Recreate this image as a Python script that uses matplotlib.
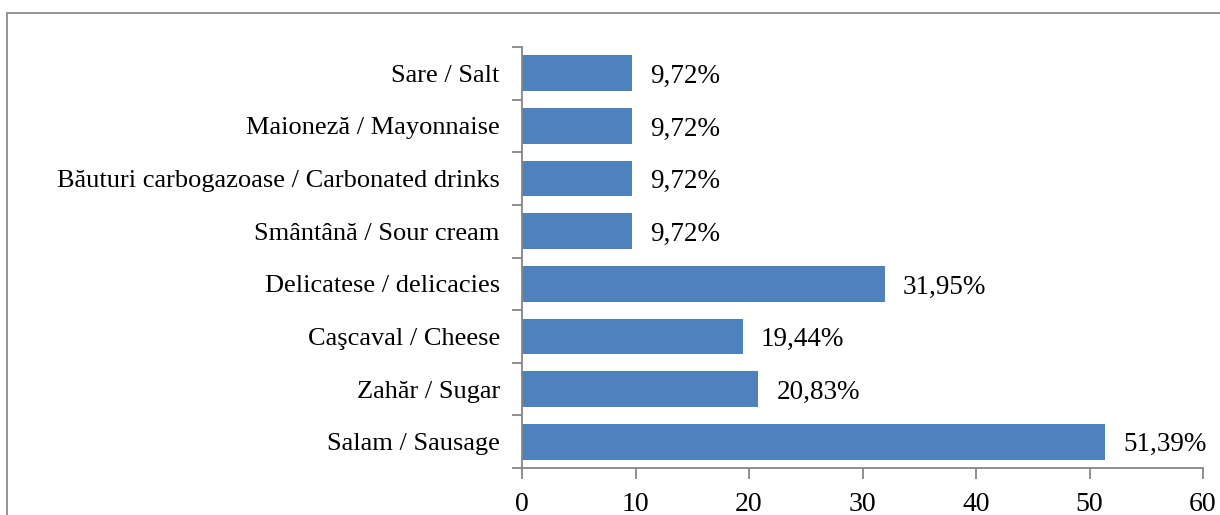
import numpy as np
import matplotlib.pyplot as plt
from matplotlib.patches import Rectangle

# categorii de jos in sus
categorii = ["Salam / Sausage", "Zahăr / Sugar", "Caşcaval / Cheese",
             "Delicatese / delicacies", "Smântână / Sour cream",
             "Băuturi carbogazoase / Carbonated drinks",
             "Maioneză / Mayonnaise", "Sare / Salt"]
procente = [51.39, 20.83, 19.44, 31.95, 9.72, 9.72, 9.72, 9.72]
x_ticks = [0, 10, 20, 30, 40, 50, 60]

plt.rcParams['font.family'] = ['Liberation Serif', 'DejaVu Serif']

fig = plt.figure(figsize=(12.2, 5.15), dpi=100)
# chenarul graficului (taiat in dreapta si jos)
fig.patches.append(Rectangle((7 / 1220, -0.1), 1.2, 1 - 13 / 515 + 0.1,
                             transform=fig.transFigure, fill=False,
                             edgecolor="#8c8c8c", linewidth=1.3))

ax = fig.add_axes([522 / 1220, 1 - 468 / 515, 681 / 1220, 421 / 515])
y = np.arange(len(categorii))
ax.barh(y, procente, height=0.68, color="#4f81bd")

for yi, v in zip(y, procente):
    ax.text(v + 1.6, yi - 0.06, f"{v:.2f}%".replace(".", ","), va="center",
            ha="left", fontsize=19.5)

ax.set_xlim(0, 60)
ax.set_ylim(-0.5, len(categorii) - 0.5)
ax.set_xticks(x_ticks)
ax.set_yticks(y)
ax.set_yticklabels(categorii, fontsize=19)
ax.set_yticks(np.arange(-0.5, len(categorii)), minor=True)
ax.tick_params(axis="y", which="major", length=0, pad=16)
ax.tick_params(axis="y", which="minor", length=7, color="#868686", width=1.3)
ax.tick_params(axis="x", length=8, color="#868686", width=1.3, labelsize=20, pad=9)

for s in ["top", "right"]:
    ax.spines[s].set_visible(False)
for s in ["left", "bottom"]:
    ax.spines[s].set_color("#868686")
    ax.spines[s].set_linewidth(1.3)

fig.savefig("out.png", dpi=100)
